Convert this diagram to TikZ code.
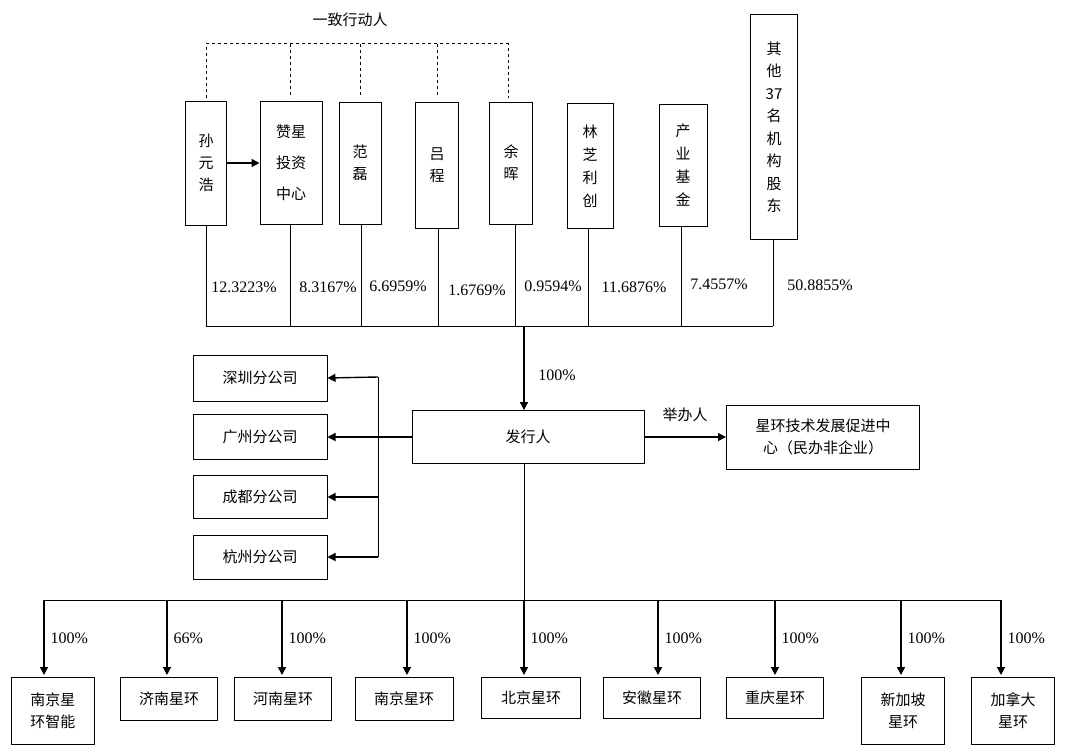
\documentclass[tikz,border=0pt]{standalone}
\usepackage{fontspec}
\setmainfont{Liberation Serif}
\newfontfamily\cjk{Noto Sans CJK SC}
\usetikzlibrary{calc,arrows.meta}
\tikzset{
  box/.style={draw,line width=1pt,font=\cjk\fontsize{15}{22}\selectfont,align=center,inner sep=0pt},
  pct/.style={font=\fontsize{16}{18}\selectfont},
  link/.style={line width=1pt},
  arr/.style={line width=1.4pt,-{Triangle[length=8pt,width=8pt]}}
}
\begin{document}
\begin{tikzpicture}[x=1pt,y=-1pt]
\useasboundingbox (0,0) rectangle (1090,752);
%% 股东
\node[box,minimum width=41,minimum height=124] (sun) at (206,163) {孙\\元\\浩};
\node[box,minimum width=62,minimum height=123,font=\cjk\fontsize{15}{31}\selectfont] (zan) at (291,163) {赞星\\投资\\中心};
\node[box,minimum width=42,minimum height=122] (fan) at (360,163) {范\\磊};
\node[box,minimum width=43,minimum height=126] (lv) at (437,165) {吕\\程};
\node[box,minimum width=43,minimum height=122] (yu) at (511,163) {余\\晖};
\node[box,minimum width=46,minimum height=125,font=\cjk\fontsize{15}{23}\selectfont] (lin) at (590,166) {林\\芝\\利\\创};
\node[box,minimum width=48,minimum height=122,font=\cjk\fontsize{15}{23}\selectfont] (chan) at (683,165) {产\\业\\基\\金};
\node[box,minimum width=47,minimum height=224,font=\cjk\fontsize{15}{22.5}\selectfont] (qt) at (774,127) {其\\他\\37\\名\\机\\构\\股\\东};
\draw[arr] (sun.east) -- (zan.west);
%% 一致行动人
\node[font=\cjk\fontsize{15}{18}\selectfont] (yz) at (350,20) {一致行动人};
\draw[dashed,line width=1pt] (206,98) -- (206,44) -- (508,44) -- (508,98);
\foreach \x in {290,360,437}{ \draw[dashed,line width=1pt] (\x,44) -- (\x,98); }
%% 持股比例
\coordinate (bus) at (524,326);
\draw[link] (206,326) -- (773,326);
\foreach \n/\x in {sun/206,zan/290,fan/361,lv/438,yu/515,lin/588,chan/681,qt/773}{
  \draw[link] (\n.south -| \x,0) -- (\x,326);
}
\foreach \x/\y/\t in {244/287/12.3223\%,328/287/8.3167\%,398/286/6.6959\%,477/290/1.6769\%,553/286/0.9594\%,634/287/11.6876\%,719/284/7.4557\%,820/285/50.8855\%}{
  \node[pct] at (\x,\y) {\t};
}
%% 发行人
\node[box,minimum width=232,minimum height=53] (fx) at (528,437) {发行人};
\node[box,minimum width=193,minimum height=64] (xh) at (823,437) {星环技术发展促进中\\心（民办非企业）};
\draw[arr] (bus) -- (bus |- fx.north);
\node[pct] at (557,375) {100\%};
\draw[arr] (fx.east) -- (xh.west);
\node[font=\cjk\fontsize{15}{18}\selectfont] at (685,415) {举办人};
%% 分公司
\node[box,minimum width=134,minimum height=46] (sz) at (260,378) {深圳分公司};
\node[box,minimum width=134,minimum height=45] (gz) at (260,437) {广州分公司};
\node[box,minimum width=134,minimum height=43] (cd) at (260,497) {成都分公司};
\node[box,minimum width=134,minimum height=44] (hz) at (260,557) {杭州分公司};
\coordinate (fv) at (378,377);
\draw[link] (fv) -- (378,557);
\draw[arr] (fx.west) -- (gz.east);
\draw[arr] (fv) -- (sz.east);
\draw[arr] (378,497) -- (cd.east);
\draw[arr] (378,557) -- (hz.east);
%% 子公司
\draw[link] (524,464) -- (524,600);
\draw[link] (44,600) -- (1001,600);
\foreach \n/\x/\w/\h/\t/\a/\p in {
  nj1/53/83/67/{南京星\\环智能}/44/100\%,
  jn/169/97/43/济南星环/167/66\%,
  hn/283/97/43/河南星环/282/100\%,
  nj2/404/98/43/南京星环/407/100\%,
  bj/531/99/41/北京星环/524/100\%,
  ah/652/97/41/安徽星环/658/100\%,
  cq/775/97/41/重庆星环/775/100\%,
  xjp/903/83/67/{新加坡\\星环}/901/100\%,
  jnd/1013/83/67/{加拿大\\星环}/1001/100\%}{
  \node[box,anchor=north,minimum width=\w,minimum height=\h] (\n) at (\x,677) {\t};
  \draw[arr] (\a,600) -- (\a,675);
  \node[pct,anchor=west] at (\a+3,638) {\p};
}
\end{tikzpicture}
\end{document}
